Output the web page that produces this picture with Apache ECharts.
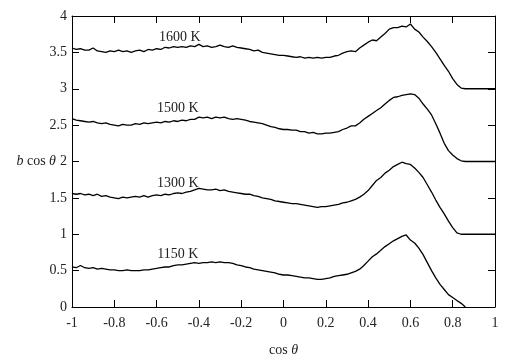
<!DOCTYPE html>
<html>
<head>
<meta charset="utf-8">
<script src="https://cdn.jsdelivr.net/npm/echarts@6/dist/echarts.min.js"></script>
<style>
  html, body { margin: 0; padding: 0; background: #fff; }
  #chart { width: 508px; height: 363px; }
</style>
</head>
<body>
<div id="chart"></div>
<script>
// Shared abscissa (cos theta) for all four curves.
const cosTheta = [
  -1.00, -0.98, -0.96, -0.94, -0.92, -0.90, -0.88, -0.86, -0.84, -0.82,
  -0.80, -0.78, -0.76, -0.74, -0.72, -0.70, -0.68, -0.66, -0.64, -0.62,
  -0.60, -0.58, -0.56, -0.54, -0.52, -0.50, -0.48, -0.46, -0.44, -0.42,
  -0.40, -0.38, -0.36, -0.34, -0.32, -0.30, -0.28, -0.26, -0.24, -0.22,
  -0.20, -0.18, -0.16, -0.14, -0.12, -0.10, -0.08, -0.06, -0.04, -0.02,
   0.00,  0.02,  0.04,  0.06,  0.08,  0.10,  0.12,  0.14,  0.16,  0.18,
   0.20,  0.22,  0.24,  0.26,  0.28,  0.30,  0.32,  0.34,  0.36,  0.38,
   0.40,  0.42,  0.44,  0.46,  0.48,  0.50,  0.52,  0.54,  0.56,  0.58,
   0.60,  0.62,  0.64,  0.66,  0.68,  0.70,  0.72,  0.74,  0.76,  0.78,
   0.80,  0.82,  0.84,  0.86,  0.88,  0.90,  0.92,  0.94,  0.96,  0.98,
   1.00
];

const b1600 = [
  3.56, 3.54, 3.55, 3.53, 3.53, 3.56, 3.52, 3.51, 3.50, 3.52,
  3.51, 3.53, 3.51, 3.52, 3.50, 3.52, 3.53, 3.51, 3.54, 3.53,
  3.55, 3.54, 3.57, 3.56, 3.58, 3.57, 3.58, 3.57, 3.59, 3.58,
  3.61, 3.58, 3.59, 3.57, 3.58, 3.60, 3.58, 3.57, 3.59, 3.57,
  3.56, 3.55, 3.54, 3.52, 3.53, 3.50, 3.49, 3.48, 3.47, 3.46,
  3.46, 3.45, 3.44, 3.43, 3.44, 3.42, 3.43, 3.42, 3.43, 3.42,
  3.43, 3.43, 3.45, 3.46, 3.49, 3.51, 3.52, 3.51, 3.56, 3.60,
  3.64, 3.67, 3.66, 3.71, 3.76, 3.82, 3.84, 3.84, 3.86, 3.85,
  3.89, 3.82, 3.78, 3.71, 3.65, 3.58, 3.50, 3.41, 3.32, 3.24,
  3.14, 3.06, 3.01, 3.00, 3.00, 3.00, 3.00, 3.00, 3.00, 3.00,
  3.00
];

const b1500 = [
  2.59, 2.57, 2.56, 2.55, 2.54, 2.55, 2.53, 2.52, 2.53, 2.51,
  2.50, 2.49, 2.51, 2.50, 2.50, 2.52, 2.51, 2.53, 2.52, 2.53,
  2.54, 2.53, 2.55, 2.54, 2.56, 2.55, 2.57, 2.56, 2.58, 2.58,
  2.61, 2.60, 2.61, 2.59, 2.61, 2.60, 2.61, 2.59, 2.58, 2.59,
  2.58, 2.57, 2.55, 2.54, 2.53, 2.52, 2.50, 2.48, 2.47, 2.45,
  2.44, 2.44, 2.43, 2.43, 2.41, 2.41, 2.39, 2.40, 2.38, 2.38,
  2.39, 2.39, 2.40, 2.41, 2.44, 2.46, 2.49, 2.49, 2.53, 2.58,
  2.62, 2.66, 2.70, 2.74, 2.79, 2.84, 2.88, 2.89, 2.91, 2.92,
  2.93, 2.92, 2.87, 2.79, 2.72, 2.64, 2.52, 2.39, 2.25, 2.15,
  2.09, 2.04, 2.01, 2.00, 2.00, 2.00, 2.00, 2.00, 2.00, 2.00,
  2.00
];

const b1300 = [
  1.56, 1.55, 1.56, 1.54, 1.55, 1.53, 1.55, 1.52, 1.53, 1.51,
  1.50, 1.49, 1.51, 1.50, 1.51, 1.52, 1.51, 1.53, 1.51, 1.53,
  1.54, 1.53, 1.55, 1.54, 1.56, 1.57, 1.56, 1.58, 1.59, 1.61,
  1.63, 1.62, 1.61, 1.61, 1.62, 1.60, 1.61, 1.59, 1.58, 1.57,
  1.56, 1.55, 1.55, 1.53, 1.52, 1.50, 1.49, 1.48, 1.46, 1.45,
  1.44, 1.43, 1.42, 1.42, 1.41, 1.40, 1.39, 1.38, 1.37, 1.38,
  1.38, 1.39, 1.40, 1.41, 1.43, 1.44, 1.46, 1.48, 1.51, 1.55,
  1.60, 1.67, 1.74, 1.78, 1.84, 1.88, 1.93, 1.96, 1.99, 1.97,
  1.96, 1.91, 1.85, 1.78, 1.68, 1.58, 1.47, 1.37, 1.28, 1.18,
  1.09, 1.02, 1.00, 1.00, 1.00, 1.00, 1.00, 1.00, 1.00, 1.00,
  1.00
];

const b1150 = [
  0.55, 0.54, 0.57, 0.54, 0.53, 0.54, 0.52, 0.53, 0.52, 0.51,
  0.51, 0.50, 0.50, 0.51, 0.50, 0.50, 0.50, 0.51, 0.51, 0.52,
  0.53, 0.54, 0.55, 0.55, 0.57, 0.58, 0.58, 0.59, 0.60, 0.61,
  0.60, 0.61, 0.61, 0.62, 0.61, 0.62, 0.61, 0.61, 0.60, 0.58,
  0.57, 0.55, 0.54, 0.52, 0.51, 0.50, 0.49, 0.48, 0.47, 0.45,
  0.44, 0.44, 0.43, 0.42, 0.41, 0.40, 0.40, 0.39, 0.38, 0.38,
  0.39, 0.40, 0.42, 0.43, 0.44, 0.45, 0.47, 0.49, 0.52, 0.57,
  0.63, 0.69, 0.73, 0.78, 0.83, 0.87, 0.91, 0.94, 0.97, 0.99,
  0.92, 0.88, 0.81, 0.72, 0.61, 0.50, 0.40, 0.31, 0.24, 0.17,
  0.13, 0.09, 0.05, 0.00, null, null, null, null, null, null,
  null
];

const curveNames = ['1600 K', '1500 K', '1300 K', '1150 K'];
const curveValues = [b1600, b1500, b1300, b1150];
// Where each temperature tag sits, in data units (cos theta, b cos theta).
const tagX = [-0.49, -0.50, -0.50, -0.50];
const tagY = [3.70, 2.73, 1.70, 0.73];

const xTicks = { min: -1, max: 1, interval: 0.2 };
const yTicks = { min: 0, max: 4, interval: 0.5 };

const FONT = '"Liberation Serif", "DejaVu Serif", serif';

const chart = echarts.init(document.getElementById('chart'), null, { renderer: 'canvas' });

const series = curveNames.map((name, k) => ({
  name,
  type: 'line',
  showSymbol: false,
  symbol: 'none',
  silent: true,
  lineStyle: { color: '#000', width: 1.3 },
  data: cosTheta.map((c, i) => [c, curveValues[k][i]]),
  markPoint: {
    symbol: 'circle',
    symbolSize: 0,
    silent: true,
    data: [{
      coord: [tagX[k], tagY[k]],
      label: {
        show: true,
        position: 'inside',
        formatter: name,
        color: '#222',
        fontFamily: FONT,
        fontSize: 14
      }
    }]
  }
}));

function baseAxis(extra) {
  return Object.assign({
    type: 'value',
    axisLine: { show: true, onZero: false, lineStyle: { color: '#000', width: 1 } },
    axisTick: { show: true, inside: true, length: 7, lineStyle: { color: '#000', width: 1 } },
    splitLine: { show: false },
    axisLabel: { color: '#222', fontFamily: FONT, fontSize: 14 }
  }, extra);
}

chart.setOption({
  animation: false,
  backgroundColor: '#fff',
  grid: { left: 72, right: 13, top: 16, bottom: 56 },
  xAxis: [
    baseAxis({
      position: 'bottom', ...xTicks,
      axisLabel: { color: '#222', fontFamily: FONT, fontSize: 14, margin: 9 },
      name: '{up|cos }{it|θ}',
      nameLocation: 'middle',
      nameGap: 36,
      nameTextStyle: {
        rich: {
          up: { fontFamily: FONT, fontSize: 14, color: '#222' },
          it: { fontFamily: FONT, fontSize: 14, fontStyle: 'italic', color: '#222' }
        }
      }
    }),
    baseAxis({ position: 'top', ...xTicks, axisLabel: { show: false } })
  ],
  yAxis: [
    baseAxis({
      position: 'left', ...yTicks,
      axisLabel: { color: '#222', fontFamily: FONT, fontSize: 14, margin: 5 },
      name: '{it|b}{up| cos }{it|θ}',
      nameLocation: 'middle',
      nameRotate: 0,
      nameGap: 16,
      nameMoveOverlap: false,
      nameTextStyle: {
        align: 'right',
        rich: {
          up: { fontFamily: FONT, fontSize: 14, color: '#222' },
          it: { fontFamily: FONT, fontSize: 14, fontStyle: 'italic', color: '#222' }
        }
      }
    }),
    baseAxis({ position: 'right', ...yTicks, axisLabel: { show: false } })
  ],
  series
});
</script>
</body>
</html>
